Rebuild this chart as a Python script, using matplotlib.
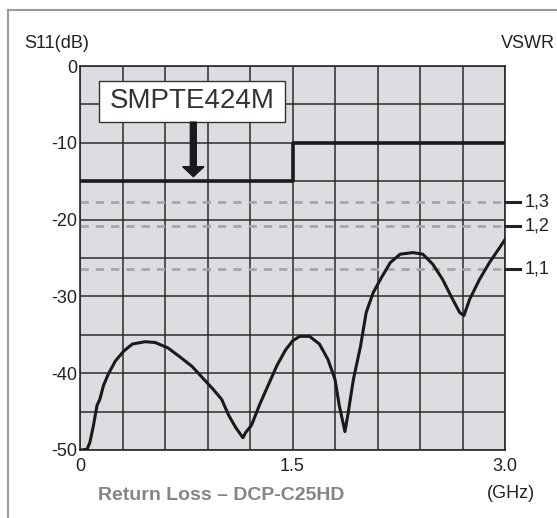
import matplotlib
matplotlib.use("Agg")
import matplotlib.pyplot as plt
import numpy as np
from matplotlib.lines import Line2D
from matplotlib.patches import Rectangle
from matplotlib.ticker import MultipleLocator

plt.rcParams["font.family"] = ["Liberation Sans", "DejaVu Sans"]

# return loss curve
freq_ghz = [0.0, 0.01, 0.05, 0.07, 0.095, 0.12, 0.14, 0.166, 0.2, 0.25, 0.31,
            0.37, 0.46, 0.53, 0.62, 0.70, 0.79, 0.865, 0.94, 1.0, 1.05, 1.10,
            1.15, 1.17, 1.21, 1.27, 1.33, 1.39, 1.45, 1.50, 1.55, 1.62, 1.69,
            1.75, 1.80, 1.83, 1.87, 1.89, 1.93, 1.98, 2.02, 2.07, 2.12, 2.19,
            2.26, 2.35, 2.42, 2.49, 2.56, 2.62, 2.68, 2.71, 2.75, 2.82, 2.89,
            2.96, 3.0]
s11_db = [-50.0, -50.0, -49.9, -49.0, -46.8, -44.2, -43.4, -41.6, -40.1, -38.4,
          -37.1, -36.2, -35.9, -36.0, -36.7, -37.8, -39.1, -40.6, -42.1, -43.4,
          -45.5, -47.1, -48.4, -47.7, -46.8, -44.0, -41.5, -39.0, -37.0, -35.8,
          -35.2, -35.2, -36.2, -38.2, -40.8, -44.2, -47.6, -45.5, -40.8, -36.5,
          -32.1, -29.5, -27.8, -25.6, -24.5, -24.3, -24.5, -25.8, -27.8, -30.0,
          -32.1, -32.5, -30.4, -27.8, -25.6, -23.7, -22.6]

# SMPTE 424M limit mask
mask_freq = [0.0, 1.5, 1.5, 3.0]
mask_db = [-15, -15, -10, -10]

# VSWR reference levels
vswr_levels = [1.3, 1.2, 1.1]
vswr_labels = ["1,3", "1,2", "1,1"]

x_ticks = [0, 1.5, 3.0]
x_tick_labels = ["0", "1.5", "3.0"]
y_ticks = [0, -10, -20, -30, -40, -50]

fs = 13
txt_col = "#222222"

fig = plt.figure(figsize=(5.57, 5.18), dpi=100)
ax = fig.add_axes([80 / 557, 1 - 450 / 518, 425 / 557, 384 / 518])
ax.set_facecolor("#dcdde0")
ax.set_xlim(0, 3.0)
ax.set_ylim(-50, 0)

grid_col = "#2b2b2b"
ax.xaxis.set_minor_locator(MultipleLocator(0.3))
ax.yaxis.set_minor_locator(MultipleLocator(5))
ax.set_xticks(x_ticks)
ax.set_xticklabels(x_tick_labels)
ax.set_yticks(y_ticks)
ax.set_yticklabels([str(v) for v in y_ticks])
ax.grid(which="both", color=grid_col, lw=1.1)
ax.set_axisbelow(True)
ax.tick_params(which="both", length=0, labelsize=fs, colors=txt_col)
ax.tick_params(axis="y", pad=2)
ax.tick_params(axis="x", pad=6)
for s in ax.spines.values():
    s.set_color(grid_col)
    s.set_linewidth(1.2)

# VSWR dashed lines and outer ticks
for v, lab in zip(vswr_levels, vswr_labels):
    rl = 20 * np.log10((v - 1) / (v + 1))
    ax.axhline(rl, color="#a4a7ac", lw=2, ls=(0, (3, 2.5)), zorder=2)
    ax.add_line(Line2D([1.0, 1.036], [rl, rl], transform=ax.get_yaxis_transform(),
                       color=txt_col, lw=2.2, clip_on=False))
    ax.text(1.045, rl, lab, transform=ax.get_yaxis_transform(), ha="left",
            va="center", fontsize=fs, color=txt_col)

ax.plot(mask_freq, mask_db, color="#1a1a1a", lw=2.6, zorder=3)
ax.plot(freq_ghz, s11_db, color="#1a1a1a", lw=2.2, zorder=4)

# SMPTE424M label box and arrow
ax.add_patch(Rectangle((0.136, -7.31), 1.311, 5.36, facecolor="white",
                       edgecolor="#333333", lw=1.0, zorder=5))
ax.text(0.79, -4.6, "SMPTE424M", ha="center", va="center", fontsize=20,
        color="#333333", zorder=6)
ax.arrow(0.8, -7.31, 0, -7.1, width=0.042, head_width=0.15, head_length=1.3,
         length_includes_head=True, color="#1a1a1a", zorder=5)

fig.text(24 / 557, 1 - 43 / 518, "S11(dB)", fontsize=fs, color=txt_col,
         ha="left", va="center")
fig.text(555 / 557, 1 - 43 / 518, "VSWR", fontsize=fs, color=txt_col,
         ha="right", va="center")
fig.text(511 / 557, 1 - 493 / 518, "(GHz)", fontsize=fs, color=txt_col,
         ha="center", va="center")
fig.text(98 / 557, 1 - 495 / 518, "Return Loss \u2013 DCP-C25HD", fontsize=14,
         fontweight="bold", color="#858585", ha="left", va="center")

# outer frame (left and top edges only)
fig.add_artist(Line2D([8 / 557, 8 / 557], [0, 1 - 10 / 518],
                      transform=fig.transFigure, color="#9a9a9a", lw=1.5))
fig.add_artist(Line2D([8 / 557, 1], [1 - 10 / 518, 1 - 10 / 518],
                      transform=fig.transFigure, color="#9a9a9a", lw=1.5))

fig.savefig("out.png", dpi=100)
